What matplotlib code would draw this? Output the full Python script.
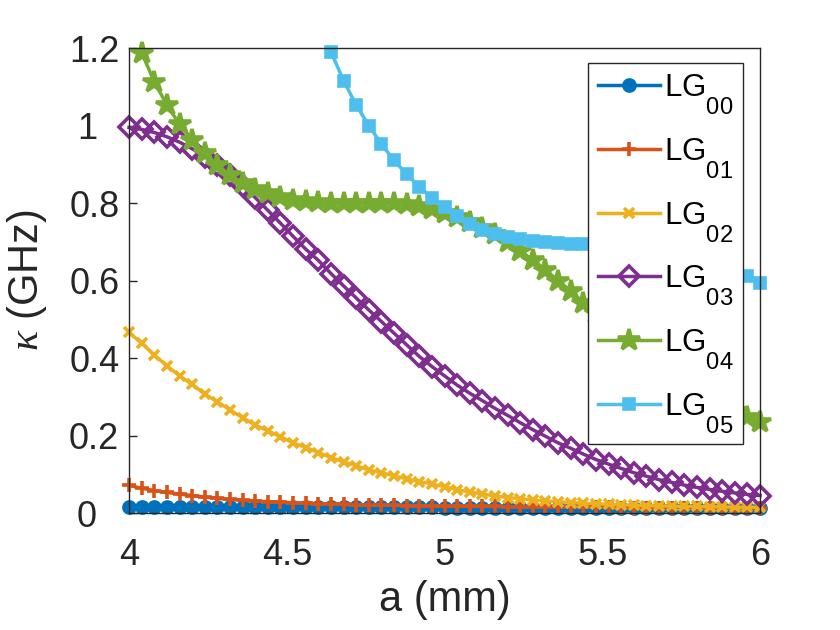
import numpy as np
import matplotlib
matplotlib.use("agg")
from matplotlib import pyplot as plt
from matplotlib.transforms import ScaledTranslation

plt.rcParams['font.family'] = ['Liberation Sans', 'DejaVu Sans']
plt.rcParams['mathtext.fontset'] = 'custom'
plt.rcParams['mathtext.rm'] = 'Liberation Sans'
plt.rcParams['mathtext.it'] = 'Liberation Serif:italic'

# MATLAB puts subscripts much lower than mathtext does
try:
    from matplotlib import _mathtext
    _mathtext.FontConstantsBase.sub1 = 1.2
    _mathtext.SHRINK_FACTOR = 0.76
except Exception:
    pass

# a (mm), 4 to 6 in steps of 0.04
a_mm = np.round(np.linspace(4.0, 6.0, 51), 2)

lg00 = [0.016, 0.016, 0.016, 0.016, 0.016, 0.016, 0.016, 0.016, 0.016, 0.016,
        0.015, 0.015, 0.015, 0.015, 0.015, 0.015, 0.015, 0.015, 0.015, 0.015,
        0.015, 0.015, 0.015, 0.015, 0.015, 0.014, 0.014, 0.014, 0.014, 0.014,
        0.014, 0.014, 0.014, 0.014, 0.014, 0.014, 0.014, 0.014, 0.013, 0.013,
        0.013, 0.013, 0.013, 0.013, 0.013, 0.013, 0.013, 0.013, 0.013, 0.013,
        0.013]

lg01 = [0.071, 0.064, 0.058, 0.053, 0.049, 0.045, 0.041, 0.038, 0.035, 0.033,
        0.031, 0.029, 0.028, 0.026, 0.025, 0.024, 0.023, 0.022, 0.021, 0.021,
        0.020, 0.020, 0.019, 0.019, 0.018, 0.018, 0.018, 0.017, 0.017, 0.017,
        0.016, 0.016, 0.016, 0.016, 0.015, 0.015, 0.015, 0.015, 0.015, 0.014,
        0.014, 0.014, 0.014, 0.014, 0.014, 0.013, 0.013, 0.013, 0.013, 0.013,
        0.013]

lg02 = [0.466, 0.438, 0.408, 0.380, 0.354, 0.332, 0.307, 0.287, 0.266, 0.246,
        0.227, 0.212, 0.197, 0.181, 0.169, 0.156, 0.143, 0.132, 0.122, 0.111,
        0.104, 0.096, 0.088, 0.081, 0.075, 0.068, 0.060, 0.054, 0.049, 0.044,
        0.040, 0.037, 0.034, 0.031, 0.029, 0.027, 0.025, 0.024, 0.022, 0.021,
        0.020, 0.019, 0.018, 0.018, 0.017, 0.017, 0.016, 0.016, 0.015, 0.015,
        0.015]

lg03 = [0.995, 0.990, 0.982, 0.971, 0.957, 0.940, 0.920, 0.898, 0.873, 0.845,
        0.814, 0.781, 0.748, 0.714, 0.681, 0.652, 0.618, 0.586, 0.555, 0.524,
        0.494, 0.464, 0.434, 0.404, 0.378, 0.354, 0.330, 0.309, 0.290, 0.270,
        0.252, 0.233, 0.215, 0.198, 0.181, 0.167, 0.152, 0.138, 0.126, 0.115,
        0.104, 0.095, 0.086, 0.079, 0.072, 0.066, 0.061, 0.056, 0.052, 0.048,
        0.045]

lg04 = [np.nan, 1.188, 1.113, 1.053, 1.003, 0.963, 0.928, 0.898, 0.872, 0.852,
        0.837, 0.825, 0.816, 0.809, 0.805, 0.802, 0.801, 0.800, 0.800, 0.800,
        0.800, 0.800, 0.798, 0.793, 0.785, 0.774, 0.763, 0.750, 0.736, 0.720,
        0.700, 0.677, 0.653, 0.627, 0.600, 0.573, 0.543, 0.515, 0.487, 0.460,
        0.433, 0.407, 0.382, 0.358, 0.335, 0.314, 0.294, 0.276, 0.262, 0.248,
        0.235]

lg05 = [np.nan, np.nan, np.nan, np.nan, np.nan, np.nan, np.nan, np.nan, np.nan, np.nan,
        np.nan, np.nan, np.nan, np.nan, np.nan, np.nan, 1.190, 1.116, 1.053, 1.000,
        0.952, 0.910, 0.874, 0.842, 0.814, 0.789, 0.767, 0.747, 0.730, 0.719,
        0.711, 0.706, 0.702, 0.699, 0.697, 0.695, 0.693, 0.691, 0.689, 0.687,
        0.684, 0.680, 0.676, 0.671, 0.665, 0.658, 0.650, 0.640, 0.628, 0.612,
        0.593]

series = [lg00, lg01, lg02, lg03, lg04, lg05]
labels = ['LG$_{00}$', 'LG$_{01}$', 'LG$_{02}$', 'LG$_{03}$', 'LG$_{04}$', 'LG$_{05}$']
colors = ['#0072BD', '#D95319', '#EDB120', '#7E2F8E', '#77AC30', '#4DBEEE']
markers = ['o', '+', 'x', 'D', '*', 's']
msizes = [8, 10, 7.5, 10, 16, 7]
filled = [True, True, True, False, True, True]

fig = plt.figure(figsize=(8.4, 6.3), dpi=100)
ax = fig.add_axes([0.1536, 0.1857, 0.7512, 0.7381])

for y, lab, c, m, ms, f in zip(series, labels, colors, markers, msizes, filled):
    ax.plot(a_mm, y, color=c, lw=2.5, marker=m, ms=ms, mew=2.6,
            mfc=c if f else 'none', mec=c, label=lab, clip_on=False)

ax.set_xlim(4, 6)
ax.set_ylim(0, 1.2)
ax.set_xticks([4, 4.5, 5, 5.5, 6])
ax.set_xticklabels(['4', '4.5', '5', '5.5', '6'])
ax.set_yticks([0, 0.2, 0.4, 0.6, 0.8, 1.0, 1.2])
ax.set_yticklabels(['0', '0.2', '0.4', '0.6', '0.8', '1', '1.2'])
ax.tick_params(direction='in', length=6, width=1, labelsize=26,
               colors='#262626')
ax.tick_params(axis='x', pad=18)
ax.tick_params(axis='y', pad=7)
for sp in ax.spines.values():
    sp.set_color('#262626')
    sp.set_linewidth(1)

# the short labels sit left, as in the original figure
for lbl in ax.get_yticklabels():
    if lbl.get_text() in ('0', '1'):
        lbl.set_transform(lbl.get_transform() +
                          ScaledTranslation(-16 / 72, 0, fig.dpi_scale_trans))

ax.set_xlabel('a (mm)', fontsize=30, color='#262626', labelpad=5)
ax.set_ylabel(r'$\kappa$ (GHz)', fontsize=30, color='#262626', labelpad=14)

leg = ax.legend(loc='upper right', bbox_to_anchor=(0.973, 0.968),
                borderaxespad=0, fontsize=22.5, numpoints=1, handlelength=2.0,
                handletextpad=0.12, labelspacing=0.63, borderpad=0.3,
                fancybox=False, framealpha=1)
leg.get_frame().set_edgecolor('#262626')
leg.get_frame().set_linewidth(1)
leg.set_zorder(10)

plt.savefig('out.png', dpi=100)
plt.close()
